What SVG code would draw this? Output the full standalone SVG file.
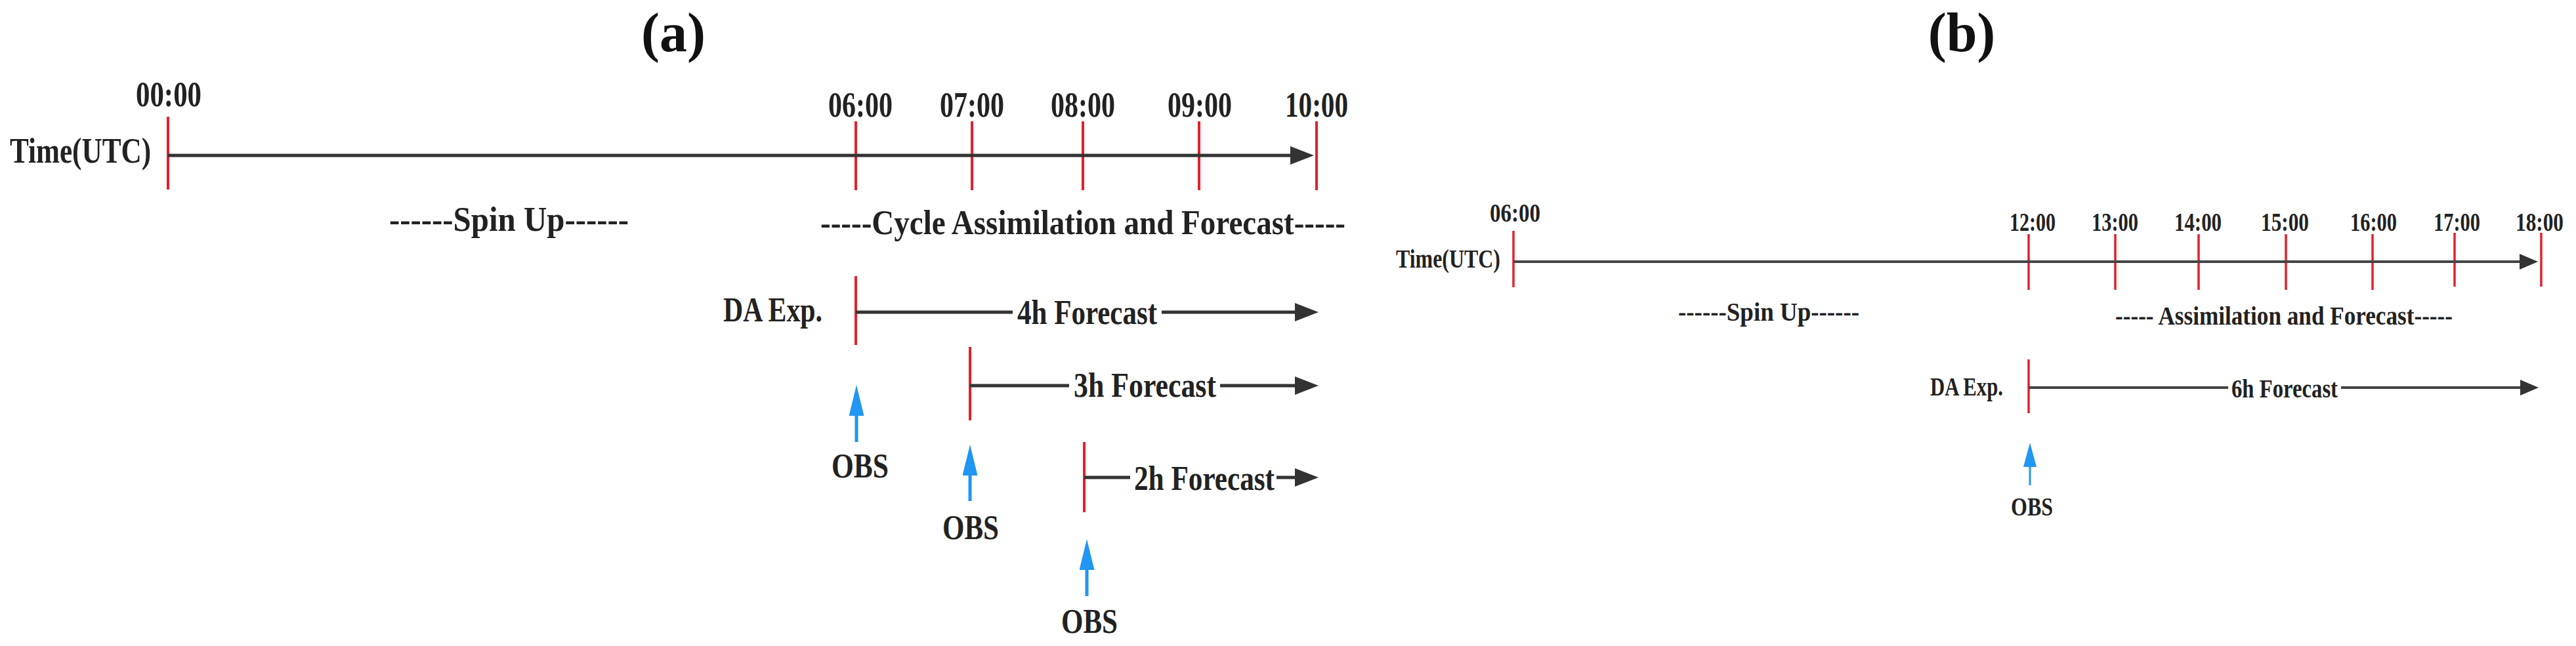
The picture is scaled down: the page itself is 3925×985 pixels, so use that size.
<svg xmlns="http://www.w3.org/2000/svg" width="3925" height="985" viewBox="0 0 3925 985">
<style>
text{font-family:"Liberation Serif","Times New Roman",serif;font-weight:bold;fill:#222}
.ttl{font-size:84px;fill:#111}
.ta{font-size:55px}
.la{font-size:52px}
.fa{font-size:52px}
.tb{font-size:40px}
.tick{stroke:#e3202b;stroke-width:4;fill:none}
.tickb{stroke:#e3202b;stroke-width:3.5;fill:none}
.ax{stroke:#333;stroke-width:5;fill:none}
.axb{stroke:#444;stroke-width:4;fill:none}
.obs{stroke:#2196f3;stroke-width:5;fill:none}
.obsb{stroke:#2196f3;stroke-width:3;fill:none}
</style>
<defs>
<marker id="ah" markerUnits="userSpaceOnUse" viewBox="0 0 36 28" refX="6" refY="14" markerWidth="36" markerHeight="28" orient="auto"><path d="M0,0 L36,14 L0,28 z" fill="#333"/></marker>
<marker id="ahb" markerUnits="userSpaceOnUse" viewBox="0 0 28 24" refX="5" refY="12" markerWidth="28" markerHeight="24" orient="auto"><path d="M0,0 L28,12 L0,24 z" fill="#333"/></marker>
<marker id="bh" markerUnits="userSpaceOnUse" viewBox="0 0 47 23" refX="4" refY="11.5" markerWidth="47" markerHeight="23" orient="auto"><path d="M0,0 L47,11.5 L0,23 z" fill="#2196f3"/></marker>
<marker id="bhb" markerUnits="userSpaceOnUse" viewBox="0 0 37 20" refX="4" refY="10" markerWidth="37" markerHeight="20" orient="auto"><path d="M0,0 L37,10 L0,20 z" fill="#2196f3"/></marker>
</defs>
<rect width="3925" height="985" fill="#fff"/>

<!-- Panel (a) -->
<g id="title-a"><text class="ttl" x="1026" y="78" text-anchor="middle">(a)</text></g>
<g id="label-time-a"><text class="ta" x="15" y="248" textLength="215" lengthAdjust="spacingAndGlyphs">Time(UTC)</text></g>
<g id="tick-a-0000"><line class="tick" x1="256" y1="178" x2="256" y2="289"/><text class="ta" x="207" y="162" textLength="100" lengthAdjust="spacingAndGlyphs">00:00</text></g>
<g id="tick-a-0600"><line class="tick" x1="1304" y1="185" x2="1304" y2="290"/><text class="ta" x="1262" y="178" textLength="98" lengthAdjust="spacingAndGlyphs">06:00</text></g>
<g id="tick-a-0700"><line class="tick" x1="1481" y1="185" x2="1481" y2="290"/><text class="ta" x="1432" y="178" textLength="98" lengthAdjust="spacingAndGlyphs">07:00</text></g>
<g id="tick-a-0800"><line class="tick" x1="1650" y1="185" x2="1650" y2="290"/><text class="ta" x="1601" y="178" textLength="98" lengthAdjust="spacingAndGlyphs">08:00</text></g>
<g id="tick-a-0900"><line class="tick" x1="1827" y1="185" x2="1827" y2="290"/><text class="ta" x="1779" y="178" textLength="98" lengthAdjust="spacingAndGlyphs">09:00</text></g>
<g id="tick-a-1000"><line class="tick" x1="2006" y1="185" x2="2006" y2="290"/><text class="ta" x="1958" y="178" textLength="96" lengthAdjust="spacingAndGlyphs">10:00</text></g>
<g id="label-spinup-a"><text class="la" x="593" y="352" textLength="365" lengthAdjust="spacingAndGlyphs">------Spin Up------</text></g>
<g id="label-cycle-a"><text class="la" x="1250" y="357" textLength="800" lengthAdjust="spacingAndGlyphs">-----Cycle Assimilation and Forecast-----</text></g>
<g id="label-da-a"><text class="fa" x="1102" y="490" textLength="151" lengthAdjust="spacingAndGlyphs">DA Exp.</text></g>
<g id="start-4h"><line class="tick" x1="1304" y1="421" x2="1304" y2="526"/></g>
<g id="start-3h"><line class="tick" x1="1478" y1="529" x2="1478" y2="641"/></g>
<g id="start-2h"><line class="tick" x1="1652" y1="674" x2="1652" y2="781"/></g>
<g id="label-4h"><text class="fa" x="1550" y="494" textLength="213" lengthAdjust="spacingAndGlyphs">4h Forecast</text></g>
<g id="label-3h"><text class="fa" x="1636" y="605" textLength="217" lengthAdjust="spacingAndGlyphs">3h Forecast</text></g>
<g id="label-2h"><text class="fa" x="1728" y="747" textLength="214" lengthAdjust="spacingAndGlyphs">2h Forecast</text></g>
<g id="obs-a1"><text class="fa" x="1267" y="728" textLength="87" lengthAdjust="spacingAndGlyphs">OBS</text></g>
<g id="obs-a2"><text class="fa" x="1436" y="822" textLength="86" lengthAdjust="spacingAndGlyphs">OBS</text></g>
<g id="obs-a3"><text class="fa" x="1617" y="965" textLength="86" lengthAdjust="spacingAndGlyphs">OBS</text></g>

<!-- Panel (b) -->
<g id="title-b"><text class="ttl" x="2989" y="78" text-anchor="middle">(b)</text></g>
<g id="label-time-b"><text class="tb" x="2127" y="408" textLength="159" lengthAdjust="spacingAndGlyphs">Time(UTC)</text></g>
<g id="tick-b-0600"><line class="tickb" x1="2306" y1="352" x2="2306" y2="438"/><text class="tb" x="2270" y="338" textLength="77" lengthAdjust="spacingAndGlyphs">06:00</text></g>
<g id="tick-b-1200"><line class="tickb" x1="3091" y1="357" x2="3091" y2="442"/><text class="tb" x="3062" y="352" textLength="70" lengthAdjust="spacingAndGlyphs">12:00</text></g>
<g id="tick-b-1300"><line class="tickb" x1="3223" y1="357" x2="3223" y2="442"/><text class="tb" x="3187" y="352" textLength="71" lengthAdjust="spacingAndGlyphs">13:00</text></g>
<g id="tick-b-1400"><line class="tickb" x1="3350" y1="357" x2="3350" y2="442"/><text class="tb" x="3313" y="352" textLength="72" lengthAdjust="spacingAndGlyphs">14:00</text></g>
<g id="tick-b-1500"><line class="tickb" x1="3483" y1="357" x2="3483" y2="442"/><text class="tb" x="3445" y="352" textLength="73" lengthAdjust="spacingAndGlyphs">15:00</text></g>
<g id="tick-b-1600"><line class="tickb" x1="3615" y1="357" x2="3615" y2="442"/><text class="tb" x="3581" y="352" textLength="71" lengthAdjust="spacingAndGlyphs">16:00</text></g>
<g id="tick-b-1700"><line class="tickb" x1="3740" y1="355" x2="3740" y2="437"/><text class="tb" x="3708" y="352" textLength="71" lengthAdjust="spacingAndGlyphs">17:00</text></g>
<g id="tick-b-1800"><line class="tickb" x1="3872" y1="355" x2="3872" y2="437"/><text class="tb" x="3833" y="352" textLength="73" lengthAdjust="spacingAndGlyphs">18:00</text></g>
<g id="label-spinup-b"><text class="tb" x="2557" y="489" textLength="276" lengthAdjust="spacingAndGlyphs">------Spin Up------</text></g>
<g id="label-assim-b"><text class="tb" x="3223" y="495" textLength="514" lengthAdjust="spacingAndGlyphs">----- Assimilation and Forecast-----</text></g>
<g id="label-da-b"><text class="tb" x="2941" y="603" textLength="111" lengthAdjust="spacingAndGlyphs">DA Exp.</text></g>
<g id="start-6h"><line class="tickb" x1="3091" y1="548" x2="3091" y2="630"/></g>
<g id="label-6h"><text class="tb" x="3400" y="606" textLength="162" lengthAdjust="spacingAndGlyphs">6h Forecast</text></g>
<g id="obs-b"><text class="tb" x="3064" y="786" textLength="64" lengthAdjust="spacingAndGlyphs">OBS</text></g>

<g id="connectors">
<path class="ax" d="M256,237 H1972" marker-end="url(#ah)"/>
<path class="ax" d="M1304,476 H1543"/>
<path class="ax" d="M1770,476 H1979" marker-end="url(#ah)"/>
<path class="ax" d="M1478,588 H1629"/>
<path class="ax" d="M1859,588 H1979" marker-end="url(#ah)"/>
<path class="ax" d="M1652,728 H1722"/>
<path class="ax" d="M1945,728 H1979" marker-end="url(#ah)"/>
<path class="obs" d="M1305,674 V630" marker-end="url(#bh)"/>
<path class="obs" d="M1478,764 V721" marker-end="url(#bh)"/>
<path class="obs" d="M1656,909 V865" marker-end="url(#bh)"/>
<path class="axb" d="M2306,399 H3844" marker-end="url(#ahb)"/>
<path class="axb" d="M3091,591 H3395"/>
<path class="axb" d="M3567,591 H3845" marker-end="url(#ahb)"/>
<path class="obsb" d="M3093,740 V708" marker-end="url(#bhb)"/>
</g>
</svg>
